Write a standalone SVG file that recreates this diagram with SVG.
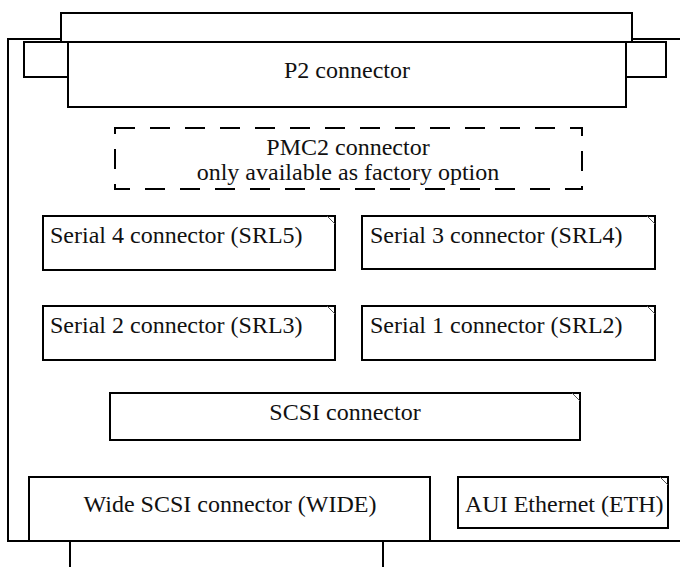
<svg xmlns="http://www.w3.org/2000/svg" width="680" height="567" viewBox="0 0 680 567">
  <style>
    .box { fill: #fff; stroke: #000; stroke-width: 2; }
    .dash { fill: none; stroke: #000; stroke-width: 2; stroke-dasharray: 20 15; }
    .ear { stroke: #555; stroke-width: 1; fill: none; }
    .edge { fill: none; stroke: #000; stroke-width: 2; }
    text { font-family: 'Liberation Serif', 'DejaVu Serif', serif; font-size: 24px; fill: #111; }
    .mid { text-anchor: middle; }
  </style>
  <rect width="680" height="567" fill="#fff"/>

  <!-- board outline and mounting legs -->
  <g id="board">
    <path class="edge" d="M681,39 H8 V541 H681"/>
    <line class="edge" x1="70" y1="541" x2="70" y2="567"/>
    <line class="edge" x1="383" y1="541" x2="383" y2="567"/>
  </g>

  <!-- P2 backplane connector with flanges -->
  <g id="p2">
    <rect class="box" x="61" y="13" width="571" height="29"/>
    <rect class="box" x="24" y="42" width="44" height="35"/>
    <rect class="box" x="626" y="42" width="40" height="35"/>
    <rect class="box" x="68" y="42" width="558" height="65"/>
    <text class="mid" x="347" y="78">P2 connector</text>
  </g>

  <g id="pmc2">
    <rect class="dash" x="115" y="128" width="467" height="61"/>
    <text class="mid" x="348" y="155">PMC2 connector</text>
    <text class="mid" x="348" y="180">only available as factory option</text>
  </g>

  <g id="srl5">
    <rect class="box" x="43" y="216" width="292" height="54"/>
    <line class="ear" x1="327" y1="216" x2="335" y2="224"/>
    <text x="50" y="243">Serial 4 connector (SRL5)</text>
  </g>

  <g id="srl4">
    <rect class="box" x="362" y="216" width="293" height="53"/>
    <line class="ear" x1="647" y1="216" x2="655" y2="224"/>
    <text x="370" y="243">Serial 3 connector (SRL4)</text>
  </g>

  <g id="srl3">
    <rect class="box" x="43" y="306" width="292" height="54"/>
    <line class="ear" x1="327" y1="306" x2="335" y2="314"/>
    <text x="50" y="333">Serial 2 connector (SRL3)</text>
  </g>

  <g id="srl2">
    <rect class="box" x="362" y="306" width="293" height="54"/>
    <line class="ear" x1="647" y1="306" x2="655" y2="314"/>
    <text x="370" y="333">Serial 1 connector (SRL2)</text>
  </g>

  <g id="scsi">
    <rect class="box" x="110" y="393" width="470" height="47"/>
    <line class="ear" x1="572" y1="393" x2="580" y2="401"/>
    <text class="mid" x="345" y="420">SCSI connector</text>
  </g>

  <g id="wide">
    <rect class="box" x="29" y="477" width="401" height="64"/>
    <text class="mid" x="230" y="512">Wide SCSI connector (WIDE)</text>
  </g>

  <g id="eth">
    <rect class="box" x="458" y="477" width="210" height="51"/>
    <line class="ear" x1="660" y1="477" x2="668" y2="485"/>
    <text x="465" y="512">AUI Ethernet (ETH)</text>
  </g>

  <!-- no connectors between the parts -->
  <g id="connectors"/>
</svg>
